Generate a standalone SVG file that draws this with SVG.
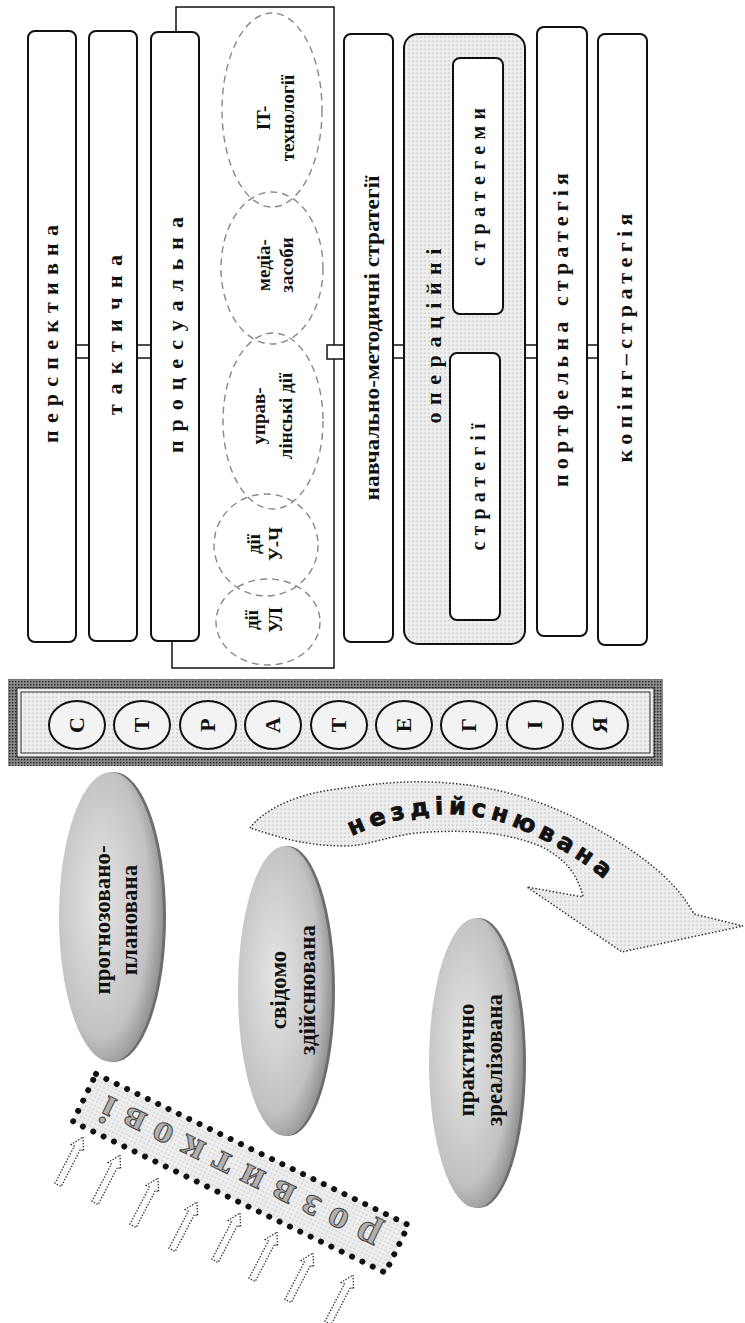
<svg xmlns="http://www.w3.org/2000/svg" width="745" height="1323" viewBox="0 0 745 1323">
<style>
.box{fill:#fff;stroke:#111;stroke-width:2}
.lbl{font-family:"Liberation Serif",serif;font-weight:bold;fill:#111;text-anchor:middle}
.sp{font-size:22px}
.ell{font-size:19px}
.big{font-size:23px}
.dash{fill:none;stroke:#888;stroke-width:1.4;stroke-dasharray:7 5}
.conn{fill:#fff;stroke:#111;stroke-width:1.5}
.line{fill:none;stroke:#111;stroke-width:1.5}
.circ{fill:#f3f3f3;stroke:#111;stroke-width:2}
.garr{fill:#fbfbfb;stroke:#333;stroke-width:1.3;stroke-dasharray:1.4 1.6}
</style>
<defs>
<pattern id="dots" width="4" height="4" patternUnits="userSpaceOnUse">
<rect width="4" height="4" fill="#eeeeee"/>
<circle cx="1" cy="1" r="0.6" fill="#9a9a9a"/>
</pattern>
<pattern id="hatch" width="3" height="3" patternUnits="userSpaceOnUse">
<rect width="3" height="3" fill="#8a8a8a"/>
<rect width="1.4" height="1.4" fill="#222"/>
</pattern>
<radialGradient id="eg" cx="0.4" cy="0.45" r="0.62">
<stop offset="0" stop-color="#e6e6e6"/>
<stop offset="0.75" stop-color="#c2c2c2"/>
<stop offset="1" stop-color="#8e8e8e"/>
</radialGradient>
<path id="arcText" d="M 348,838 C 400,812 462,806 512,826 C 552,842 586,862 614,888"/>
</defs>
<rect width="745" height="1323" fill="#fff"/>

<g id="connectors">
<path class="line" d="M176,32 V7 H334 V668 H172 V641"/>
<rect class="conn" x="76" y="345" width="13" height="13"/>
<rect class="conn" x="137" y="345" width="14" height="13"/>
<rect class="conn" x="327" y="345" width="17" height="14"/>
<rect class="conn" x="393" y="345" width="11" height="13"/>
<rect class="conn" x="525" y="345" width="12" height="13"/>
<rect class="conn" x="587" y="345" width="11" height="13"/>
</g>

<g id="perspektyvna">
<rect class="box" x="28" y="31" width="48" height="611" rx="7"/>
<text class="lbl sp" transform="translate(58,334) rotate(-90)" textLength="218" lengthAdjust="spacing">перспективна</text>
</g>
<g id="taktychna">
<rect class="box" x="89" y="31" width="48" height="610" rx="7"/>
<text class="lbl sp" transform="translate(122,335) rotate(-90)" textLength="160" lengthAdjust="spacing">тактична</text>
</g>
<g id="protsesualna">
<rect class="box" x="151" y="32" width="48" height="609" rx="7"/>
<text class="lbl sp" transform="translate(183,335) rotate(-90)" textLength="236" lengthAdjust="spacing">процесуальна</text>
</g>

<g id="it">
<ellipse class="dash" cx="272" cy="110" rx="50" ry="97"/>
<text class="lbl ell" transform="translate(0,118) rotate(-90)"><tspan x="0" y="270">IT-</tspan><tspan x="0" y="294">технології</tspan></text>
</g>
<g id="media">
<ellipse class="dash" cx="272" cy="268" rx="51" ry="76"/>
<text class="lbl ell" transform="translate(0,265) rotate(-90)"><tspan x="0" y="270">медіа-</tspan><tspan x="0" y="293">засоби</tspan></text>
</g>
<g id="upravlinski">
<ellipse class="dash" cx="273" cy="421" rx="50" ry="88"/>
<text class="lbl ell" transform="translate(0,416) rotate(-90)"><tspan x="0" y="265">управ-</tspan><tspan x="0" y="292">лінські дії</tspan></text>
</g>
<g id="dii-uch">
<ellipse class="dash" cx="266" cy="545" rx="52" ry="51"/>
<text class="lbl ell" transform="translate(0,544) rotate(-90)"><tspan x="0" y="260">дії</tspan><tspan x="0" y="282">У-Ч</tspan></text>
</g>
<g id="dii-ul">
<ellipse class="dash" cx="268" cy="622" rx="52" ry="43"/>
<text class="lbl ell" transform="translate(0,620) rotate(-90)"><tspan x="0" y="258">дії</tspan><tspan x="0" y="282">УЛ</tspan></text>
</g>

<g id="navchalno">
<rect class="box" x="344" y="34" width="49" height="608" rx="7"/>
<text class="lbl" style="font-size:20px" transform="translate(379,338) rotate(-90)" textLength="325" lengthAdjust="spacingAndGlyphs">навчально-методичні стратегії</text>
</g>
<g id="operatsiini">
<rect x="404" y="34" width="121" height="610" rx="14" fill="url(#dots)" stroke="#111" stroke-width="2"/>
<text class="lbl" style="font-size:22px" transform="translate(441,336) rotate(-90)" textLength="175" lengthAdjust="spacing">операційні</text>
<g id="strategemy">
<rect class="box" x="453" y="58" width="50" height="256" rx="7"/>
<text class="lbl" style="font-size:20px" transform="translate(485,187) rotate(-90)" textLength="158" lengthAdjust="spacing">стратегеми</text>
</g>
<g id="strategii">
<rect class="box" x="450" y="353" width="50" height="267" rx="7"/>
<text class="lbl" style="font-size:20px" transform="translate(485,487) rotate(-90)" textLength="127" lengthAdjust="spacing">стратегії</text>
</g>
</g>
<g id="portfelna">
<rect class="box" x="537" y="27" width="50" height="609" rx="7"/>
<text class="lbl sp" transform="translate(568,330) rotate(-90)" textLength="314" lengthAdjust="spacing">портфельна стратегія</text>
</g>
<g id="koping">
<rect class="box" x="598" y="34" width="49" height="611" rx="7"/>
<text class="lbl sp" transform="translate(632,338) rotate(-90)" textLength="249" lengthAdjust="spacing">копінг–стратегія</text>
</g>

<g id="strategiia-band">
<rect x="8" y="679" width="655" height="87" fill="url(#hatch)"/>
<rect x="17" y="688" width="637" height="69" fill="url(#dots)" stroke="#222" stroke-width="1"/>
<rect x="21" y="692" width="629" height="61" fill="none" stroke="#333" stroke-width="1"/>
<ellipse class="circ" cx="77" cy="725" rx="28" ry="24"/>
<ellipse class="circ" cx="142" cy="725" rx="28" ry="24"/>
<ellipse class="circ" cx="208" cy="725" rx="28" ry="24"/>
<ellipse class="circ" cx="273" cy="725" rx="28" ry="24"/>
<ellipse class="circ" cx="339" cy="725" rx="28" ry="24"/>
<ellipse class="circ" cx="404" cy="725" rx="28" ry="24"/>
<ellipse class="circ" cx="469" cy="725" rx="28" ry="24"/>
<ellipse class="circ" cx="535" cy="725" rx="28" ry="24"/>
<ellipse class="circ" cx="600" cy="725" rx="28" ry="24"/>
<g class="lbl" style="font-size:22px">
<text transform="translate(84,725) rotate(-90)">С</text>
<text transform="translate(149,725) rotate(-90)">Т</text>
<text transform="translate(215,725) rotate(-90)">Р</text>
<text transform="translate(280,725) rotate(-90)">А</text>
<text transform="translate(346,725) rotate(-90)">Т</text>
<text transform="translate(411,725) rotate(-90)">Е</text>
<text transform="translate(476,725) rotate(-90)">Г</text>
<text transform="translate(542,725) rotate(-90)">І</text>
<text transform="translate(607,725) rotate(-90)">Я</text>
</g>
</g>

<g id="prognozovano">
<ellipse cx="114" cy="917" rx="52" ry="145" fill="#6e6e6e"/>
<ellipse cx="111" cy="917" rx="52" ry="145" fill="url(#eg)"/>
<text class="lbl big" transform="translate(0,920) rotate(-90)"><tspan x="0" y="110">прогнозовано-</tspan><tspan x="0" y="137">планована</tspan></text>
</g>
<g id="svidomo">
<ellipse cx="288" cy="991" rx="47" ry="145" fill="#6e6e6e"/>
<ellipse cx="285" cy="991" rx="47" ry="145" fill="url(#eg)"/>
<text class="lbl big" transform="translate(0,990) rotate(-90)"><tspan x="0" y="286">свідомо</tspan><tspan x="0" y="315">здійснювана</tspan></text>
</g>
<g id="praktychno">
<ellipse cx="479" cy="1063" rx="47" ry="145" fill="#6e6e6e"/>
<ellipse cx="476" cy="1063" rx="47" ry="145" fill="url(#eg)"/>
<text class="lbl big" transform="translate(0,1060) rotate(-90)"><tspan x="0" y="474">практично</tspan><tspan x="0" y="502">зреалізована</tspan></text>
</g>

<g id="nezdiisniuvana">
<path d="M 250,828 C 262,812 290,796 330,790 C 370,784 400,781 430,782 C 500,784 560,805 620,843 C 655,865 680,888 694,914 L 743,926 L 622,952 L 527,887 L 583,897 C 578,875 565,858 540,846 C 505,832 470,830 430,832 C 390,834 370,846 345,846 C 300,846 270,834 250,828 Z" fill="url(#dots)" stroke="#333" stroke-width="1.5" stroke-dasharray="1.5 2"/>
<text style="font-family:'DejaVu Sans',sans-serif;font-weight:bold;font-size:24px;fill:#111;stroke:#111;stroke-width:0.8"><textPath href="#arcText" startOffset="4" textLength="272" lengthAdjust="spacing">нездійснювана</textPath></text>
</g>

<g id="rozvytkovi">
<rect transform="translate(96,1074) rotate(25.8)" x="0" y="0" width="347" height="53" fill="url(#dots)" stroke="#111" stroke-width="6" stroke-linecap="round" stroke-dasharray="0 11.5"/>
<text class="lbl" transform="translate(240,1173) rotate(206)" y="12" style="font-size:40px;fill:#b0b0b0;stroke:#444;stroke-width:1" textLength="305" lengthAdjust="spacing">розвиткові</text>
</g>

<g id="small-arrows">
<polygon class="garr" transform="translate(83,1137) rotate(27.5)" points="0,0 7,12 3.5,12 3.5,54 -3.5,54 -3.5,12 -7,12"/>
<polygon class="garr" transform="translate(120,1155) rotate(27.5)" points="0,0 7,12 3.5,12 3.5,54 -3.5,54 -3.5,12 -7,12"/>
<polygon class="garr" transform="translate(158,1178) rotate(27.5)" points="0,0 7,12 3.5,12 3.5,54 -3.5,54 -3.5,12 -7,12"/>
<polygon class="garr" transform="translate(197,1202) rotate(27.5)" points="0,0 7,12 3.5,12 3.5,54 -3.5,54 -3.5,12 -7,12"/>
<polygon class="garr" transform="translate(240,1213) rotate(27.5)" points="0,0 7,12 3.5,12 3.5,54 -3.5,54 -3.5,12 -7,12"/>
<polygon class="garr" transform="translate(277,1232) rotate(27.5)" points="0,0 7,12 3.5,12 3.5,54 -3.5,54 -3.5,12 -7,12"/>
<polygon class="garr" transform="translate(313,1253) rotate(27.5)" points="0,0 7,12 3.5,12 3.5,54 -3.5,54 -3.5,12 -7,12"/>
<polygon class="garr" transform="translate(353,1275) rotate(27.5)" points="0,0 7,12 3.5,12 3.5,54 -3.5,54 -3.5,12 -7,12"/>
</g>
</svg>
